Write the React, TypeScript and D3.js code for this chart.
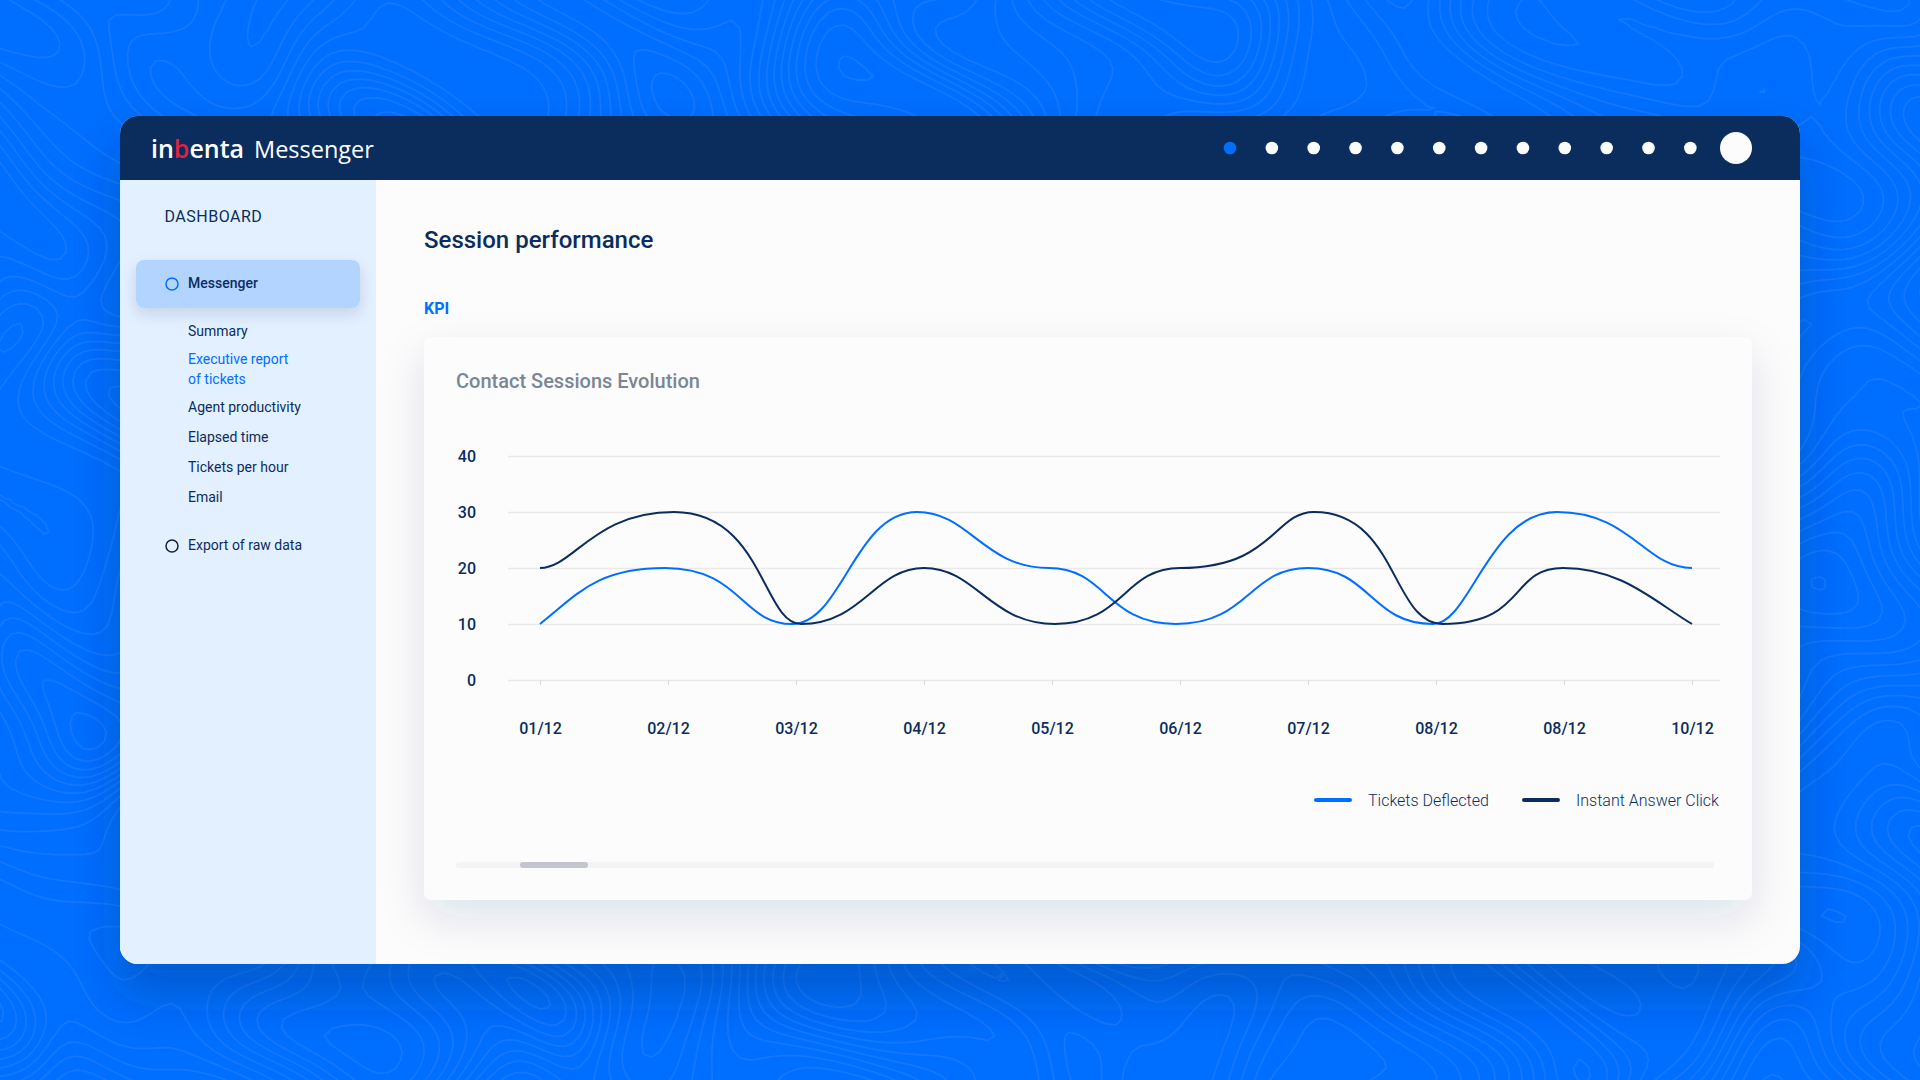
import * as d3 from "d3";
import * as React from "react";

const days = ["01/12", "02/12", "03/12", "04/12", "05/12", "06/12", "07/12", "08/12", "08/12", "10/12"];
const ticketsDeflected = [10, 20, 10, 30, 20, 10, 20, 10, 30, 20];
const instantAnswerClick = [20, 30, 10, 20, 10, 20, 30, 10, 20, 10];
const yTicks = [0, 10, 20, 30, 40];
const legendNames = ["Tickets Deflected", "Instant Answer Click"];

const subMenu = ["Summary", "Executive report", "of tickets", "Agent productivity", "Elapsed time", "Tickets per hour", "Email"];
const subMenuBaselines = [336, 364, 384, 412, 442, 472, 502];

const BLUE = "#006eff";
const NAVY = "#0b2d5e";

// bezier handle lengths [in, out] at each knot, as a share of the step between days
const blueHandles = [[0, 0.3], [0.55, 0.6], [0.4, 0.4], [0.5, 0.4], [0.5, 0.45], [0.55, 0.55], [0.45, 0.5], [0.5, 0.3], [0.55, 0.55], [0.35, 0]];
const navyHandles = [[0, 0.25], [0.6, 0.7], [0.3, 0.5], [0.4, 0.4], [0.5, 0.55], [0.45, 0.7], [0.3, 0.65], [0.4, 0.7], [0.45, 0.45], [0.3, 0]];
// the hand drawn peaks sit a few pixels off their tick
const blueDrift = [0, -3, -4, -7, -3, -4, 0, -3, -7, 0];
const navyDrift = [0, 6, 5, 0, 3, 0, 6, 7, -1, 0];

// horizontal tangents everywhere except the given slopes at the two ends
function handleCurve(handles: number[][], drift: number[], startSlope: number, endSlope: number) {
  return (context: any) => {
    let pts: [number, number][] = [];
    return {
      areaStart() {},
      areaEnd() {},
      lineStart() {
        pts = [];
      },
      point(x: number, y: number) {
        pts.push([x + drift[pts.length], y]);
      },
      lineEnd() {
        pts.forEach(([x, y], i) => {
          if (i === 0) {
            context.moveTo(x, y);
            return;
          }
          const [px, py] = pts[i - 1];
          const dx = x - px;
          const out = handles[i - 1][1] * dx;
          const inn = handles[i][0] * dx;
          const s0 = i === 1 ? startSlope : 0;
          const s1 = i === pts.length - 1 ? endSlope : 0;
          context.bezierCurveTo(px + out, py + s0 * out, x - inn, y - s1 * inn, x, y);
        });
      },
    } as any;
  };
}

function drawBackground(svg: any) {
  svg.append("rect").attr("width", 1920).attr("height", 1080).attr("fill", BLUE);

  // topographic pattern behind the panel, grid runs past the page edge
  const nx = 260;
  const ny = 155;
  const cell = 8;
  const field: number[] = new Array(nx * ny);
  for (let j = 0; j < ny; j++) {
    for (let i = 0; i < nx; i++) {
      const x = i * cell;
      const y = j * cell;
      const u = x + 50 * Math.sin(y / 70 + 1) + 30 * Math.sin(y / 37 + x / 90);
      const v = y + 50 * Math.sin(x / 80 + 2) + 25 * Math.sin(x / 41 - y / 60);
      field[j * nx + i] =
        Math.sin(u / 90) + Math.sin(v / 105 + 1) + 0.6 * Math.sin((u + v) / 65) + 0.5 * Math.sin((u - v) / 50 + 2);
    }
  }
  const contours = d3.contours().size([nx, ny]).thresholds(d3.range(-3.2, 3.2, 0.3))(field);
  svg
    .append("g")
    .attr("transform", `translate(-80, -80) scale(${cell})`)
    .selectAll("path")
    .data(contours)
    .join("path")
    .attr("d", d3.geoPath() as any)
    .attr("fill", "none")
    .attr("stroke", "#fff")
    .attr("stroke-opacity", 0.07)
    .attr("stroke-width", 1.8 / cell);
}

function addShadow(defs: any, id: string, dy: number, blur: number, opacity: number) {
  const f = defs
    .append("filter")
    .attr("id", id)
    .attr("x", "-20%")
    .attr("y", "-30%")
    .attr("width", "140%")
    .attr("height", "170%");
  f.append("feDropShadow")
    .attr("dx", 0)
    .attr("dy", dy)
    .attr("stdDeviation", blur)
    .attr("flood-color", NAVY)
    .attr("flood-opacity", opacity);
}

function label(g: any, x: number, y: number, txt: string, size: number, weight: number, color: string) {
  return g
    .append("text")
    .attr("x", x)
    .attr("y", y)
    .attr("font-size", size)
    .attr("font-weight", weight)
    .attr("fill", color)
    .text(txt);
}

function drawShell(svg: any) {
  const defs = svg.append("defs");
  addShadow(defs, "panelShadow", 30, 24, 0.3);
  addShadow(defs, "cardShadow", 18, 22, 0.12);
  addShadow(defs, "itemShadow", 6, 7, 0.14);

  defs
    .append("clipPath")
    .attr("id", "panelClip")
    .append("rect")
    .attr("x", 120)
    .attr("y", 116)
    .attr("width", 1680)
    .attr("height", 848)
    .attr("rx", 18);

  svg
    .append("rect")
    .attr("x", 120)
    .attr("y", 116)
    .attr("width", 1680)
    .attr("height", 848)
    .attr("rx", 18)
    .attr("fill", "#fcfcfc")
    .attr("filter", "url(#panelShadow)");

  const panel = svg.append("g").attr("clip-path", "url(#panelClip)");
  panel.append("rect").attr("x", 120).attr("y", 116).attr("width", 1680).attr("height", 64).attr("fill", NAVY);
  panel.append("rect").attr("x", 120).attr("y", 180).attr("width", 256).attr("height", 784).attr("fill", "#e3f0ff");

  // header
  const logo = label(svg, 151, 158, "in", 25, 600, "#fff").attr("font-family", "Open Sans");
  logo.append("tspan").attr("fill", "#dc2342").text("b");
  logo.append("tspan").text("enta");
  label(svg, 254, 158, "Messenger", 23.5, 500, "#fff").attr("font-family", "Open Sans");

  svg
    .append("g")
    .selectAll("circle")
    .data(d3.range(12))
    .join("circle")
    .attr("cx", (d: number) => 1230 + d * 41.85)
    .attr("cy", 148)
    .attr("r", 6.3)
    .attr("fill", (d: number) => (d === 0 ? BLUE : "#fcfcfc"));
  svg.append("circle").attr("cx", 1736).attr("cy", 148).attr("r", 16).attr("fill", "#fcfcfc");

  // sidebar
  label(svg, 164.5, 222, "DASHBOARD", 16, 400, NAVY).attr("letter-spacing", 0.5);
  svg
    .append("rect")
    .attr("x", 136)
    .attr("y", 260)
    .attr("width", 224)
    .attr("height", 48)
    .attr("rx", 8)
    .attr("fill", "#b3d4ff")
    .attr("filter", "url(#itemShadow)");
  svg.append("circle").attr("cx", 172).attr("cy", 284).attr("r", 6).attr("fill", "none").attr("stroke", BLUE).attr("stroke-width", 1.5);
  label(svg, 188, 288, "Messenger", 14, 500, NAVY);
  subMenu.forEach((t, i) => {
    label(svg, 188, subMenuBaselines[i], t, 14, 400, i === 1 || i === 2 ? BLUE : NAVY);
  });
  svg.append("circle").attr("cx", 172).attr("cy", 546).attr("r", 6).attr("fill", "none").attr("stroke", "#14223a").attr("stroke-width", 1.5);
  label(svg, 188, 550, "Export of raw data", 14, 400, NAVY);

  // content
  label(svg, 424, 248, "Session performance", 24, 500, NAVY);
  label(svg, 424, 314, "KPI", 16, 700, BLUE);
  svg
    .append("rect")
    .attr("x", 424)
    .attr("y", 337)
    .attr("width", 1328)
    .attr("height", 563)
    .attr("rx", 8)
    .attr("fill", "#fcfcfd")
    .attr("filter", "url(#cardShadow)");
  label(svg, 456, 388, "Contact Sessions Evolution", 20, 500, "#7b8694");
}

function drawChart(svg: any) {
  const x = d3.scaleLinear().domain([0, days.length - 1]).range([540, 1692]);
  const y = d3.scaleLinear().domain([0, 40]).range([680, 456]);

  const yAxis = d3
    .axisLeft(y)
    .tickValues(yTicks)
    .tickSize(-1212)
    .tickPadding(32);
  const yG = svg.append("g").attr("transform", "translate(508, 0)").call(yAxis);
  yG.select(".domain").remove();
  yG.selectAll("line").attr("stroke", "#e9e9e9").attr("stroke-width", 1.5);
  yG.selectAll("text")
    .attr("font-family", "Roboto")
    .attr("font-size", 16)
    .attr("font-weight", 500)
    .attr("fill", NAVY)
    .attr("y", 0.8);

  const xAxis = d3
    .axisBottom(x)
    .tickValues(d3.range(days.length))
    .tickFormat((_d: any, i: number) => days[i])
    .tickSize(5)
    .tickPadding(37.6);
  const xG = svg.append("g").attr("transform", "translate(0, 680)").call(xAxis);
  xG.select(".domain").remove();
  xG.selectAll("line").attr("stroke", "#dcdcdc");
  xG.selectAll("text")
    .attr("font-family", "Roboto")
    .attr("font-size", 16)
    .attr("font-weight", 500)
    .attr("fill", NAVY);

  const line = d3
    .line<number>()
    .x((_d, i) => x(i))
    .y((d) => y(d));

  svg
    .append("path")
    .attr("d", line.curve(handleCurve(blueHandles, blueDrift, -0.79, 0) as any)(ticketsDeflected))
    .attr("fill", "none")
    .attr("stroke", BLUE)
    .attr("stroke-width", 2);
  svg
    .append("path")
    .attr("d", line.curve(handleCurve(navyHandles, navyDrift, 0, 0.6) as any)(instantAnswerClick))
    .attr("fill", "none")
    .attr("stroke", NAVY)
    .attr("stroke-width", 2);

  // legend
  const legend = [
    { x1: 1314, x2: 1352, tx: 1368, color: BLUE },
    { x1: 1522, x2: 1560, tx: 1576, color: NAVY },
  ];
  legend.forEach((l, i) => {
    svg
      .append("line")
      .attr("x1", l.x1 + 2)
      .attr("x2", l.x2 - 2)
      .attr("y1", 800)
      .attr("y2", 800)
      .attr("stroke", l.color)
      .attr("stroke-width", 4)
      .attr("stroke-linecap", "round");
    label(svg, l.tx, 806, legendNames[i], 16, 300, NAVY);
  });

  // scrollbar
  svg.append("rect").attr("x", 456).attr("y", 862).attr("width", 1258).attr("height", 6).attr("rx", 3).attr("fill", "#f3f4f6");
  svg.append("rect").attr("x", 520).attr("y", 862).attr("width", 68).attr("height", 6).attr("rx", 3).attr("fill", "#c3c6ce");
}

export default function App() {
  const ref = React.useRef<SVGSVGElement>(null);

  React.useEffect(() => {
    const svg = d3.select(ref.current);
    svg.selectAll("*").remove();
    drawBackground(svg);
    drawShell(svg);
    drawChart(svg);
  }, []);

  return (
    <svg
      ref={ref}
      width={1920}
      height={1080}
      fontFamily="Roboto"
      style={{ position: "absolute", top: 0, left: 0, display: "block" }}
    />
  );
}
